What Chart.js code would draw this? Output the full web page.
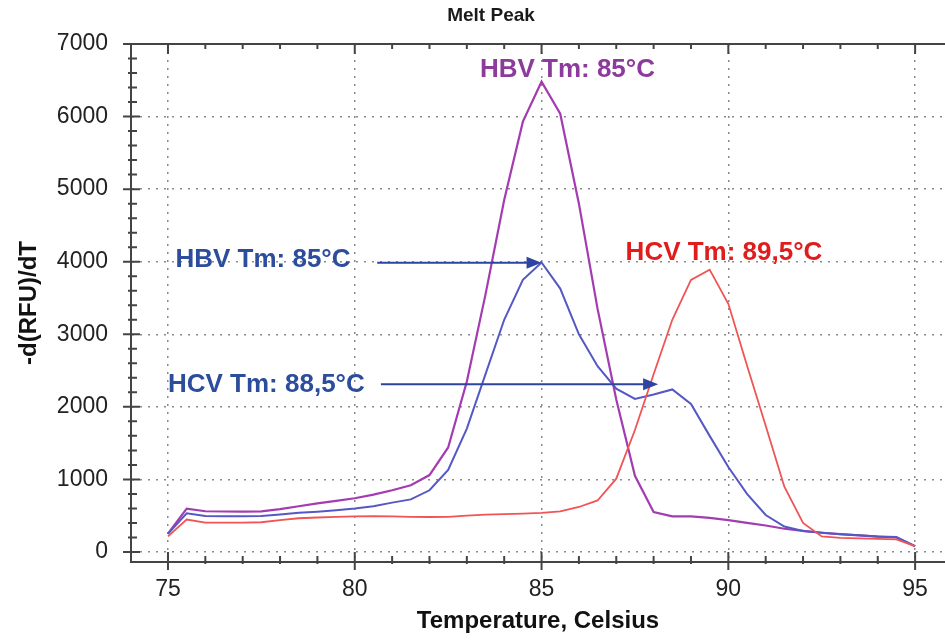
<!DOCTYPE html>
<html>
<head>
<meta charset="utf-8">
<title>Melt Peak</title>
<script src="https://cdn.jsdelivr.net/npm/chart.js@4.4.0/dist/chart.umd.min.js"></script>
<style>
  html, body { margin: 0; padding: 0; background: #fff; }
</style>
</head>
<body>
<canvas id="meltChart" width="945" height="644"></canvas>
<script>
// temperature steps (Celsius)
const temps = [75, 75.5, 76, 76.5, 77, 77.5, 78, 78.5, 79, 79.5, 80, 80.5, 81, 81.5, 82, 82.5, 83, 83.5, 84, 84.5,
  85, 85.5, 86, 86.5, 87, 87.5, 88, 88.5, 89, 89.5, 90, 90.5, 91, 91.5, 92, 92.5, 93, 93.5, 94, 94.5, 95];

// -d(RFU)/dT per curve
const hbvCurve = [254, 598, 561, 558, 556, 560, 590, 630, 670, 705, 740, 790, 850, 920, 1060, 1440, 2350, 3550, 4850, 5930,
  6480, 6040, 4800, 3350, 2100, 1050, 550, 490, 490, 470, 440, 400, 365, 320, 290, 265, 245, 228, 212, 200, 80];
const mixCurve = [250, 533, 495, 492, 492, 495, 515, 540, 555, 575, 598, 630, 680, 725, 850, 1130, 1700, 2450, 3200, 3750,
  3990, 3630, 3000, 2560, 2250, 2110, 2170, 2240, 2040, 1600, 1170, 800, 510, 350, 290, 265, 245, 230, 215, 207, 80];
const hcvCurve = [216, 447, 405, 405, 405, 410, 440, 465, 475, 485, 492, 495, 492, 485, 482, 485, 500, 515, 522, 528,
  538, 560, 620, 710, 1010, 1680, 2450, 3200, 3750, 3890, 3420, 2570, 1740, 900, 400, 215, 195, 188, 180, 175, 80];

const xTicks = [75, 80, 85, 90, 95];
const yTicks = [0, 1000, 2000, 3000, 4000, 5000, 6000, 7000];

const labelFont = '"Liberation Sans", Arial, sans-serif';

// text notes and arrows, in data units
const notes = [
  { text: 'HBV Tm: 85°C', x: 83.35, y: 6640, color: '#8c3a9c' },
  { text: 'HBV Tm: 85°C', x: 75.2, y: 4025, color: '#2c4c9c' },
  { text: 'HCV Tm: 88,5°C', x: 75.0, y: 2300, color: '#2c4c9c' },
  { text: 'HCV Tm: 89,5°C', x: 87.25, y: 4120, color: '#e01c1c' }
];
const arrows = [
  { from: 80.6, to: 85.0, y: 3986 },
  { from: 80.7, to: 88.12, y: 2313 }
];

const toPoints = values => temps.map((t, i) => ({ x: t, y: values[i] }));

const overlay = {
  id: 'overlay',
  afterDraw(chart) {
    const { ctx, chartArea } = chart;
    const xs = chart.scales.x;
    const ys = chart.scales.y;
    const { left, right, top, bottom } = chartArea;

    ctx.save();
    ctx.strokeStyle = '#444';
    ctx.lineWidth = 2;
    ctx.beginPath();
    // top frame line
    ctx.moveTo(left - 8, top);
    ctx.lineTo(right, top);

    // left axis ticks, every 200
    for (let v = 0; v <= 7000; v += 200) {
      const py = ys.getPixelForValue(v);
      const major = v % 1000 === 0;
      ctx.moveTo(left - (major ? 8 : 3), py);
      ctx.lineTo(left + (major ? 9 : 6), py);
    }
    // bottom and top ticks, every degree
    for (let t = 75; t <= 95; t++) {
      const px = xs.getPixelForValue(t);
      const major = t % 5 === 0;
      ctx.moveTo(px, bottom - (major ? 10 : 6));
      ctx.lineTo(px, bottom + (major ? 8 : 2));
      ctx.moveTo(px, top);
      ctx.lineTo(px, top + (major ? 10 : 5));
    }
    ctx.stroke();

    // arrows
    ctx.strokeStyle = '#2b45a0';
    ctx.fillStyle = '#2b45a0';
    ctx.lineWidth = 2;
    arrows.forEach(a => {
      const x1 = xs.getPixelForValue(a.from);
      const x2 = xs.getPixelForValue(a.to);
      const py = ys.getPixelForValue(a.y);
      ctx.beginPath();
      ctx.moveTo(x1, py);
      ctx.lineTo(x2 - 12, py);
      ctx.stroke();
      ctx.beginPath();
      ctx.moveTo(x2, py);
      ctx.lineTo(x2 - 15, py - 6);
      ctx.lineTo(x2 - 15, py + 6);
      ctx.closePath();
      ctx.fill();
    });

    // notes
    ctx.font = 'bold 26px ' + labelFont;
    ctx.textAlign = 'left';
    ctx.textBaseline = 'middle';
    notes.forEach(n => {
      ctx.fillStyle = n.color;
      ctx.fillText(n.text, xs.getPixelForValue(n.x), ys.getPixelForValue(n.y));
    });

    // chart title
    ctx.fillStyle = '#1a1a1a';
    ctx.font = 'bold 19px ' + labelFont;
    ctx.textAlign = 'center';
    ctx.fillText('Melt Peak', 491, 16);
    ctx.restore();
  }
};

new Chart(document.getElementById('meltChart'), {
  type: 'line',
  data: {
    datasets: [
      { label: 'HCV', data: toPoints(hcvCurve), borderColor: '#f05454', borderWidth: 1.8 },
      { label: 'HBV + HCV', data: toPoints(mixCurve), borderColor: '#5558c4', borderWidth: 2 },
      { label: 'HBV', data: toPoints(hbvCurve), borderColor: '#a23cb0', borderWidth: 2.2 }
    ]
  },
  options: {
    responsive: false,
    animation: false,
    devicePixelRatio: 1,
    layout: { padding: { top: 44, left: 0, right: 0, bottom: 0 } },
    elements: {
      point: { radius: 0 },
      line: { tension: 0, fill: false }
    },
    plugins: {
      legend: { display: false },
      tooltip: { enabled: false },
      title: { display: false }
    },
    scales: {
      x: {
        type: 'linear',
        min: 74.01,
        max: 95.8,
        afterBuildTicks: scale => { scale.ticks = xTicks.map(v => ({ value: v })); },
        afterFit: scale => { scale.height = 82; },
        grid: { color: '#8a8a8a', lineWidth: 1.5, drawTicks: false },
        border: { display: true, color: '#444', width: 2, dash: [2, 6] },
        ticks: {
          padding: 14,
          color: '#222',
          font: { family: labelFont, size: 23 },
          maxRotation: 0,
          callback: v => String(v)
        },
        title: {
          display: true,
          text: 'Temperature, Celsius',
          color: '#111',
          font: { family: labelFont, size: 24, weight: 'bold' },
          padding: { top: 0, bottom: 8 }
        }
      },
      y: {
        min: -138,
        max: 7000,
        afterBuildTicks: scale => { scale.ticks = yTicks.map(v => ({ value: v })); },
        afterFit: scale => { scale.width = 131; },
        grid: { color: '#8a8a8a', lineWidth: 1.5, drawTicks: false },
        border: { display: true, color: '#444', width: 2, dash: [2, 6] },
        ticks: {
          padding: 23,
          color: '#222',
          font: { family: labelFont, size: 23 },
          callback: v => String(v)
        },
        title: {
          display: true,
          text: '-d(RFU)/dT',
          color: '#111',
          font: { family: labelFont, size: 24, weight: 'bold' },
          padding: { top: 15, bottom: 0 }
        }
      }
    }
  },
  plugins: [overlay]
});
</script>
</body>
</html>
